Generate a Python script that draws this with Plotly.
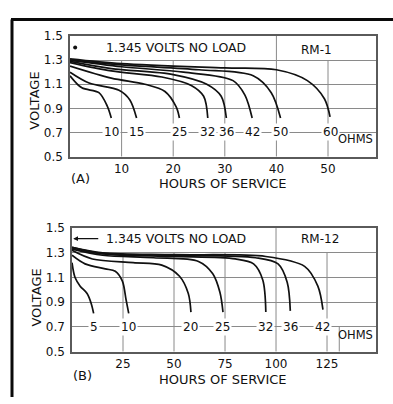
import plotly.graph_objects as go

W, H = 393, 404

# ---------------- RM-1 cell ----------------
a_loads = [10, 15, 25, 32, 36, 42, 50, 60]          # ohms
a_hours = [
    [0, 2.3, 5.6, 7.2, 8.0],
    [0, 3.7, 9.5, 11.6, 12.9],
    [0, 8, 14.5, 18.4, 20.6, 21.2],
    [0, 8, 17.8, 23.5, 25.9, 26.7],
    [0, 8, 20, 26.5, 29.3, 30.3],
    [0, 10, 22, 31.6, 33.9, 35.3],
    [0, 10, 25, 35.5, 39.0, 40.8],
    [0, 10, 30, 40, 46, 49.3, 50.4],
]
a_volts = [
    [1.17, 1.07, 1.03, 0.92, 0.82],
    [1.20, 1.11, 1.05, 0.97, 0.82],
    [1.25, 1.15, 1.10, 1.04, 0.91, 0.82],
    [1.28, 1.21, 1.16, 1.09, 1.00, 0.82],
    [1.29, 1.23, 1.18, 1.10, 1.00, 0.82],
    [1.30, 1.245, 1.20, 1.13, 1.01, 0.82],
    [1.30, 1.26, 1.22, 1.17, 1.03, 0.82],
    [1.31, 1.27, 1.235, 1.22, 1.13, 0.98, 0.83],
]
a_xticks = [10, 20, 30, 40, 50]
a_full_height = [40]

# ---------------- RM-12 cell ----------------
b_loads = [5, 10, 20, 25, 32, 36, 42]               # ohms
b_hours = [
    [0, 1.5, 4, 7.4, 9.4, 10.6],
    [0, 6.4, 16.3, 21.2, 24.7, 26.5, 27.8],
    [0, 10, 30, 44, 52.7, 57, 58.3],
    [0, 15, 40, 62, 69, 72.5, 74],
    [0, 15, 50, 80, 89, 93.5, 95],
    [0, 15, 50, 90, 101, 105.5, 107],
    [0, 15, 50, 95, 114, 120.5, 123],
]
b_volts = [
    [1.22, 1.10, 1.03, 0.97, 0.89, 0.81],
    [1.28, 1.21, 1.17, 1.15, 1.07, 0.92, 0.81],
    [1.32, 1.25, 1.22, 1.20, 1.11, 0.97, 0.82],
    [1.33, 1.28, 1.26, 1.23, 1.13, 0.98, 0.82],
    [1.34, 1.29, 1.27, 1.25, 1.21, 1.08, 0.82],
    [1.345, 1.295, 1.28, 1.26, 1.21, 1.06, 0.83],
    [1.345, 1.30, 1.285, 1.27, 1.19, 1.03, 0.84],
]
b_xticks = [25, 50, 75, 100, 125]
b_full_height = [100]
b_ohms_box_left = 131

y_ticks = [0.5, 0.7, 0.9, 1.1, 1.3, 1.5]
y_labels = ["0.5", "0.7", "0.9", "1.1", "1.3", "1.5"]
header_floor = 1.3
label_row = 0.7
no_load = "1.345 VOLTS NO LOAD"

FONT = "DejaVu Sans"
INK = "#111111"
GRID = "#8a8a8a"
FRAME = "#5a5a5a"


def px(x):
    return x / W


def py(y):
    return 1 - y / H


def text(x, y, s, xref, yref, size=12.5, **kw):
    d = dict(x=x, y=y, xref=xref, yref=yref, text=s, showarrow=False,
             xanchor="center", yanchor="middle",
             font=dict(family=FONT, size=size, color=INK))
    d.update(kw)
    return d


fig = go.Figure()

panels = [
    dict(ax="x", ay="y", loads=a_loads, hours=a_hours, volts=a_volts),
    dict(ax="x2", ay="y2", loads=b_loads, hours=b_hours, volts=b_volts),
]

annotations = []
shapes = []

for p in panels:
    for load, t, v in zip(p["loads"], p["hours"], p["volts"]):
        fig.add_trace(go.Scatter(
            x=t, y=v, mode="lines", xaxis=p["ax"], yaxis=p["ay"],
            line=dict(color=INK, width=1.7, shape="spline", smoothing=0.9),
            hoverinfo="skip", showlegend=False,
        ))
        # resistance label sitting on the 0.7 V line at the end of the curve
        annotations.append(text(t[-1], label_row, str(load), p["ax"], p["ay"],
                                size=12, bgcolor="white", borderpad=1))

# vertical rulings
for xref, yref, ticks, full in [("x", "y", a_xticks, a_full_height),
                                ("x2", "y2", b_xticks, b_full_height)]:
    for tv in ticks:
        shapes.append(dict(
            type="line", xref=xref, yref=yref, x0=tv, x1=tv,
            y0=y_ticks[0], y1=y_ticks[-1] if tv in full else header_floor,
            line=dict(color=GRID, width=1), layer="below",
        ))

# box around the OHMS caption of the RM-12 cell
shapes.append(dict(type="line", xref="x2", yref="y2",
                   x0=b_ohms_box_left, x1=b_ohms_box_left,
                   y0=y_ticks[0], y1=label_row,
                   line=dict(color=GRID, width=1), layer="below"))

# outer frame of the figure: top rule and left rule only
shapes.append(dict(type="line", xref="paper", yref="paper",
                   x0=px(11), x1=1, y0=py(13), y1=py(13),
                   line=dict(color="#0a0a0a", width=3)))
shapes.append(dict(type="line", xref="paper", yref="paper",
                   x0=px(12), x1=px(12), y0=py(13), y1=0,
                   line=dict(color="#0a0a0a", width=3)))

annotations += [
    # header texts
    text(6.6, 1.404, no_load, "x", "y", xanchor="left"),
    text(47.7, 1.385, "RM-1", "x", "y", size=12),
    text(15.7, 1.414, no_load, "x2", "y2", xanchor="left"),
    text(121.6, 1.414, "RM-12", "x2", "y2", size=12),
    # arrow pointing to the no-load voltage at the start of service
    dict(x=0.6, y=1.414, xref="x2", yref="y2", ax=13.6, ay=1.414,
         axref="x2", ayref="y2", text="", showarrow=True, arrowhead=2,
         arrowsize=0.8, arrowwidth=1.2, arrowcolor=INK),
    text(55.3, 0.644, "OHMS", "x", "y", size=11.5),
    text(139.0, 0.633, "OHMS", "x2", "y2", size=11.5),
    # axis titles and panel tags
    text(px(35), py(97), "VOLTAGE", "paper", "paper", size=13, textangle=-90),
    text(px(37), py(301), "VOLTAGE", "paper", "paper", size=13, textangle=-90),
    text(px(223), py(183), "HOURS OF SERVICE", "paper", "paper", size=13),
    text(px(223), py(386), "HOURS OF SERVICE", "paper", "paper", size=13),
    text(px(80), py(178), "(A)", "paper", "paper", size=13),
    text(px(82), py(382), "(B)", "paper", "paper", size=13),
]

# small dot marking the no-load level in the RM-1 cell
fig.add_trace(go.Scatter(x=[1.0], y=[1.404], xaxis="x", yaxis="y", mode="markers",
                         marker=dict(color=INK, size=4), hoverinfo="skip",
                         showlegend=False))

xcommon = dict(showline=True, mirror=True, linecolor=FRAME, linewidth=1.5,
               showgrid=False, zeroline=False, ticks="",
               tickfont=dict(family=FONT, size=12, color=INK))
ycommon = dict(showline=True, mirror=True, linecolor=FRAME, linewidth=1.5,
               showgrid=True, gridcolor=GRID, gridwidth=1, zeroline=False,
               ticks="", tickvals=y_ticks, ticktext=y_labels, range=[0.5, 1.5],
               ticklabelstandoff=3,
               tickfont=dict(family=FONT, size=12, color=INK))

fig.update_layout(
    width=W, height=H,
    margin=dict(l=0, r=0, t=0, b=0),
    paper_bgcolor="white", plot_bgcolor="white",
    xaxis=dict(domain=[px(70), px(376)], range=[0, 59.3], tickvals=a_xticks,
               anchor="y", **xcommon),
    yaxis=dict(domain=[py(155), py(30)], anchor="x", **ycommon),
    xaxis2=dict(domain=[px(72), px(376)], range=[0, 149], tickvals=b_xticks,
                anchor="y2", **xcommon),
    yaxis2=dict(domain=[py(357), py(229)], anchor="x2", **ycommon),
    shapes=shapes,
    annotations=annotations,
)

fig.write_html("out.html", config={"displayModeBar": False})
